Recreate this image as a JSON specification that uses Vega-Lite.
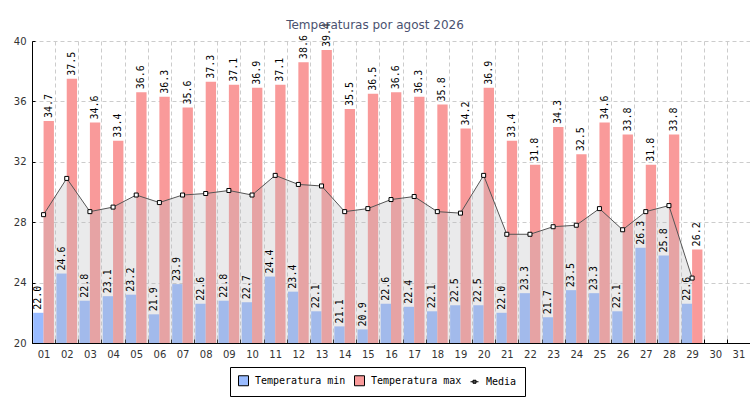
{
  "$schema": "https://vega.github.io/schema/vega-lite/v6.json",
  "width": 718,
  "height": 302,
  "autosize": {"type": "none"},
  "padding": {"left": 32, "top": 41, "right": 0, "bottom": 57},
  "background": "#ffffff",
  "title": {
    "text": "Temperaturas por agost 2026",
    "font": "DejaVu Sans",
    "fontSize": 12,
    "fontWeight": "normal",
    "color": "#4A5270",
    "anchor": "middle",
    "dx": -16,
    "offset": -9
  },
  "data": {
    "values": [
      {"dia": "01", "min": 22.0, "max": 34.7, "media": 28.5},
      {"dia": "02", "min": 24.6, "max": 37.5, "media": 30.9},
      {"dia": "03", "min": 22.8, "max": 34.6, "media": 28.7},
      {"dia": "04", "min": 23.1, "max": 33.4, "media": 29.0},
      {"dia": "05", "min": 23.2, "max": 36.6, "media": 29.8},
      {"dia": "06", "min": 21.9, "max": 36.3, "media": 29.3},
      {"dia": "07", "min": 23.9, "max": 35.6, "media": 29.8},
      {"dia": "08", "min": 22.6, "max": 37.3, "media": 29.9},
      {"dia": "09", "min": 22.8, "max": 37.1, "media": 30.1},
      {"dia": "10", "min": 22.7, "max": 36.9, "media": 29.8},
      {"dia": "11", "min": 24.4, "max": 37.1, "media": 31.1},
      {"dia": "12", "min": 23.4, "max": 38.6, "media": 30.5},
      {"dia": "13", "min": 22.1, "max": 39.4, "media": 30.4},
      {"dia": "14", "min": 21.1, "max": 35.5, "media": 28.7},
      {"dia": "15", "min": 20.9, "max": 36.5, "media": 28.9},
      {"dia": "16", "min": 22.6, "max": 36.6, "media": 29.5},
      {"dia": "17", "min": 22.4, "max": 36.3, "media": 29.7},
      {"dia": "18", "min": 22.1, "max": 35.8, "media": 28.7},
      {"dia": "19", "min": 22.5, "max": 34.2, "media": 28.6},
      {"dia": "20", "min": 22.5, "max": 36.9, "media": 31.1},
      {"dia": "21", "min": 22.0, "max": 33.4, "media": 27.2},
      {"dia": "22", "min": 23.3, "max": 31.8, "media": 27.2},
      {"dia": "23", "min": 21.7, "max": 34.3, "media": 27.7},
      {"dia": "24", "min": 23.5, "max": 32.5, "media": 27.8},
      {"dia": "25", "min": 23.3, "max": 34.6, "media": 28.9},
      {"dia": "26", "min": 22.1, "max": 33.8, "media": 27.5},
      {"dia": "27", "min": 26.3, "max": 31.8, "media": 28.7},
      {"dia": "28", "min": 25.8, "max": 33.8, "media": 29.1},
      {"dia": "29", "min": 22.6, "max": 26.2, "media": 24.3}
    ]
  },
  "encoding": {
    "x": {
      "field": "dia",
      "type": "nominal",
      "title": null,
      "scale": {
        "domain": ["01","02","03","04","05","06","07","08","09","10","11","12","13","14","15","16","17","18","19","20","21","22","23","24","25","26","27","28","29","30","31"],
        "paddingInner": 0,
        "paddingOuter": 0
      },
      "axis": {
        "labelAngle": 0,
        "grid": true,
        "tickBand": "extent",
        "tickSize": -4,
        "labelPadding": 10,
        "labelFont": "DejaVu Sans",
        "labelFontSize": 10,
        "labelColor": "#333333",
        "domainColor": "#000000",
        "tickColor": "#000000",
        "gridColor": "#cccccc",
        "gridDash": [4, 3]
      }
    }
  },
  "layer": [
    {
      "transform": [{"fold": ["min", "max"], "as": ["serie", "valor"]}],
      "mark": {"type": "bar"},
      "encoding": {
        "xOffset": {"field": "serie", "type": "nominal", "scale": {"domain": ["min", "max"], "paddingInner": 0, "paddingOuter": 0.12}},
        "y": {
          "field": "valor",
          "type": "quantitative",
          "title": null,
          "scale": {"domain": [20, 40], "nice": false, "zero": false},
          "axis": {
            "values": [20,21,22,23,24,25,26,27,28,29,30,31,32,33,34,35,36,37,38,39,40],
            "labelExpr": "datum.value % 4 == 0 ? datum.label : ''",
            "gridOpacity": {"condition": {"test": "datum.value % 4 == 0", "value": 1}, "value": 0},
            "tickSize": -3,
            "labelPadding": 9,
            "labelFont": "DejaVu Sans",
            "labelFontSize": 10,
            "labelColor": "#333333",
            "domainColor": "#000000",
            "tickColor": "#000000",
            "gridColor": "#cccccc",
            "gridDash": [4, 3]
          }
        },
        "y2": {"datum": 20},
        "color": {
          "field": "serie",
          "type": "nominal",
          "scale": {"domain": ["min", "max", "media"], "range": ["#99BBFF", "#F99A9A", "#555555"]},
          "legend": {
            "title": null,
            "orient": "none",
            "legendX": 198,
            "legendY": 326,
            "direction": "horizontal",
            "padding": 8,
            "strokeColor": "#000000",
            "fillColor": "#ffffff",
            "labelFont": "DejaVu Sans Mono",
            "labelFontSize": 10,
            "labelColor": "#000000",
            "symbolSize": 100,
            "labelOffset": 6,
            "columnPadding": 6,
            "labelExpr": "datum.value == 'min' ? 'Temperatura min' : datum.value == 'max' ? 'Temperatura max' : 'Media'",
            "encode": {
              "symbols": {
                "update": {
                  "shape": {"signal": "datum.value === 'media' ? 'M-0.8,0H-0.3M0.3,0H0.8M-0.3,-0.3H0.3V0.3H-0.3Z' : 'square'"},
                  "fill": {"signal": "datum.value === 'media' ? '#ffffff' : scale('color', datum.value)"},
                  "stroke": {"value": "#000000"},
                  "strokeWidth": {"value": 1},
                  "opacity": {"value": 1}
                }
              }
            }
          }
        }
      }
    },
    {
      "mark": {"type": "area", "fill": "#BABABD", "fillOpacity": 0.3},
      "encoding": {
        "y": {"field": "media", "type": "quantitative"},
        "y2": {"datum": 20}
      }
    },
    {
      "mark": {"type": "line", "stroke": "#555555", "strokeWidth": 1},
      "encoding": {
        "y": {"field": "media", "type": "quantitative"}
      }
    },
    {
      "mark": {"type": "point", "shape": "square", "filled": true, "fill": "#ffffff", "stroke": "#000000", "strokeWidth": 1, "size": 16, "opacity": 1},
      "encoding": {
        "y": {"field": "media", "type": "quantitative"}
      }
    },
    {
      "transform": [{"fold": ["min", "max"], "as": ["serie", "valor"]}],
      "mark": {"type": "text", "angle": 270, "align": "left", "baseline": "middle", "dx": 3, "font": "DejaVu Sans Mono", "fontSize": 10, "color": "#000000"},
      "encoding": {
        "xOffset": {"field": "serie", "type": "nominal"},
        "y": {"field": "valor", "type": "quantitative"},
        "text": {"field": "valor", "type": "quantitative", "format": ".1f"}
      }
    }
  ],
  "config": {
    "view": {"stroke": null}
  }
}
